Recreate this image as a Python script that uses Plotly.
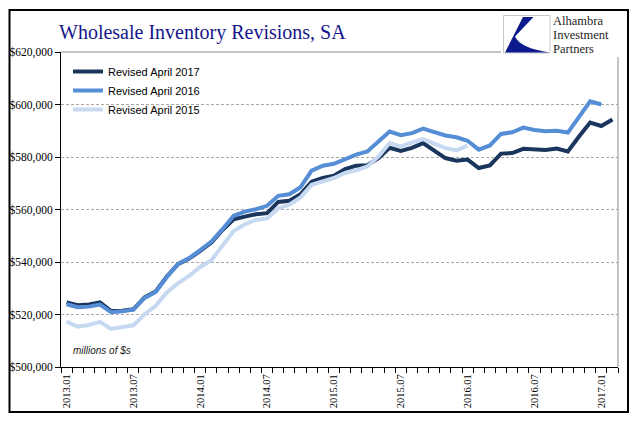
import plotly.graph_objects as go

# ---------------- data ----------------
months = ["2013.01","2013.02","2013.03","2013.04","2013.05","2013.06","2013.07","2013.08","2013.09","2013.10","2013.11","2013.12",
          "2014.01","2014.02","2014.03","2014.04","2014.05","2014.06","2014.07","2014.08","2014.09","2014.10","2014.11","2014.12",
          "2015.01","2015.02","2015.03","2015.04","2015.05","2015.06","2015.07","2015.08","2015.09","2015.10","2015.11","2015.12",
          "2016.01","2016.02","2016.03","2016.04","2016.05","2016.06","2016.07","2016.08","2016.09","2016.10","2016.11","2016.12",
          "2017.01","2017.02"]
tick_labels = ["2013.01","2013.07","2014.01","2014.07","2015.01","2015.07","2016.01","2016.07","2017.01"]

rev_2017 = [524600, 523500, 523800, 524600, 521300, 521400, 522000, 526500, 528800, 534500,
            539200, 541300, 544200, 547400, 552200, 556300, 557300, 558200, 558600, 562900,
            563300, 565800, 570600, 572000, 572900, 575400, 576700, 576900, 579600, 583500,
            582300, 583500, 585300, 582600, 579600, 578600, 579000, 575800, 576800, 581300,
            581500, 583100, 583000, 582700, 583200, 582100, 587800, 593100, 591800, 594300]
rev_2016 = [523900, 522800, 523000, 523800, 520900, 521200, 521900, 526300, 528600, 534300,
            539200, 541500, 544500, 547800, 552500, 557600, 559200, 560100, 561400, 565200,
            565800, 568500, 574800, 576700, 577400, 579200, 580900, 582100, 585700, 589700,
            588300, 589100, 590800, 589500, 588200, 587500, 586200, 582800, 584400, 588800,
            589400, 591200, 590300, 589800, 590000, 589300, 595100, 601200, 600000]
rev_2015 = [517300, 515400, 516000, 517200, 514500, 515200, 515900, 520100, 523300, 528400,
            531900, 534700, 538100, 540700, 546400, 551800, 554400, 556000, 556600, 560400,
            561800, 564600, 569400, 570700, 572000, 573900, 574900, 576400, 580200, 585300,
            584000, 585500, 586800, 585100, 583400, 582500, 584300]

series_names = ["Revised April 2017", "Revised April 2016", "Revised April 2015"]
series_values = [rev_2017, rev_2016, rev_2015]
series_colors = ["#1B365D", "#558ED5", "#C6D9F1"]

title_text = "Wholesale Inventory Revisions, SA"
logo_lines = ["Alhambra", "Investment", "Partners"]
units_text = "millions of $s"

# ---------------- layout geometry ----------------
# page has an 8px body margin, so the figure is offset by OFF px
OFF = 8
W, H = 625, 405
PL, PR, PT, PB = 61, 618, 52, 367   # plot area in page pixels


def px(x):
    return (x - PL) / (PR - PL)


def py(y):
    return (PB - y) / (PB - PT)


fig = go.Figure()
for name, vals, col in zip(series_names, series_values, series_colors):
    fig.add_trace(go.Scatter(
        x=list(range(len(vals))), y=vals, mode="lines", name=name,
        line=dict(color=col, width=4), hoverinfo="skip"))

tick_pos = [months.index(t) for t in tick_labels]

shapes = []
# plot top/right border (gray)
shapes.append(dict(type="line", xref="paper", yref="paper", x0=0, x1=1, y0=1, y1=1,
                   line=dict(color="#8C8C8C", width=1)))
shapes.append(dict(type="line", xref="paper", yref="paper", x0=1, x1=1, y0=0, y1=1,
                   line=dict(color="#8C8C8C", width=1)))
# white logo background covering the corner
shapes.append(dict(type="rect", xref="paper", yref="paper",
                   x0=px(501), x1=px(621), y0=py(57), y1=py(12),
                   fillcolor="white", line=dict(width=0)))
# logo box
shapes.append(dict(type="rect", xref="paper", yref="paper",
                   x0=px(503.5), x1=px(550), y0=py(53), y1=py(15.5),
                   fillcolor="white", line=dict(color="#C8C8C8", width=1)))
# logo emblem
pts = [(523, 17), (533.5, 17), (515, 36.5)]
ctrl = (520, 48)
end = (549.5, 52.5)
last = (505, 52.5)
path = "M {:.5f},{:.5f} L {:.5f},{:.5f} L {:.5f},{:.5f} Q {:.5f},{:.5f} {:.5f},{:.5f} L {:.5f},{:.5f} Z".format(
    px(pts[0][0]), py(pts[0][1]), px(pts[1][0]), py(pts[1][1]), px(pts[2][0]), py(pts[2][1]),
    px(ctrl[0]), py(ctrl[1]), px(end[0]), py(end[1]), px(last[0]), py(last[1]))
shapes.append(dict(type="path", xref="paper", yref="paper", path=path,
                   fillcolor="#0D1A8C", line=dict(width=0)))
# outer frame
shapes.append(dict(type="rect", xref="paper", yref="paper",
                   x0=px(9.5), x1=px(628), y0=py(412), y1=py(10),
                   line=dict(color="black", width=2)))

annotations = []
annotations.append(dict(text=title_text, xref="paper", yref="paper", x=px(57), y=py(32),
                        xanchor="left", yanchor="middle", showarrow=False,
                        font=dict(family="Liberation Serif, Times New Roman, serif", size=20, color="#16168A")))
for i, t in enumerate(logo_lines):
    annotations.append(dict(text=t, xref="paper", yref="paper", x=px(551), y=py(21.5 + 13.5 * i),
                            xanchor="left", yanchor="middle", showarrow=False,
                            font=dict(family="Liberation Serif, Times New Roman, serif", size=12.5, color="#1E1E1E")))
annotations.append(dict(text="<i>" + units_text + "</i>", xref="paper", yref="paper", x=px(71), y=py(350),
                        xanchor="left", yanchor="middle", showarrow=False,
                        font=dict(family="Liberation Sans, Arial, sans-serif", size=10, color="#1A1A1A")))

fig.update_layout(
    width=W, height=H,
    margin=dict(l=PL - OFF, r=W - (PR - OFF), t=PT - OFF, b=H - (PB - OFF), pad=0, autoexpand=False),
    paper_bgcolor="white", plot_bgcolor="white",
    showlegend=True,
    legend=dict(x=px(68), y=py(57), xanchor="left", yanchor="top",
                bgcolor="rgba(0,0,0,0)", borderwidth=0,
                font=dict(family="Liberation Sans, Arial, sans-serif", size=11, color="black"),
                tracegroupgap=0),
    shapes=shapes, annotations=annotations,
    xaxis=dict(range=[-0.5, len(months) - 0.5], tickmode="array", tickvals=tick_pos, ticktext=tick_labels,
               tickangle=-90, ticks="", showgrid=False, zeroline=False, automargin=False,
               showline=True, linecolor="black", linewidth=1,
               ticklabelstandoff=2,
               tickfont=dict(family="Liberation Serif, Times New Roman, serif", size=10.5, color="black"),
               minor=dict(tickmode="linear", tick0=-0.5, dtick=1, ticks="outside", ticklen=5,
                          tickcolor="black", showgrid=False)),
    yaxis=dict(range=[500000, 620000], tickmode="linear", tick0=500000, dtick=20000, automargin=False,
               tickprefix="$", tickformat=",d", ticks="outside", ticklen=5, tickcolor="black",
               showline=True, linecolor="black", linewidth=1, zeroline=False,
               showgrid=True, gridcolor="#A8A8A8", gridwidth=1, griddash="3px,2px",
               tickfont=dict(family="Liberation Serif, Times New Roman, serif", size=11.5, color="black")),
)

fig.write_html("out.html")
